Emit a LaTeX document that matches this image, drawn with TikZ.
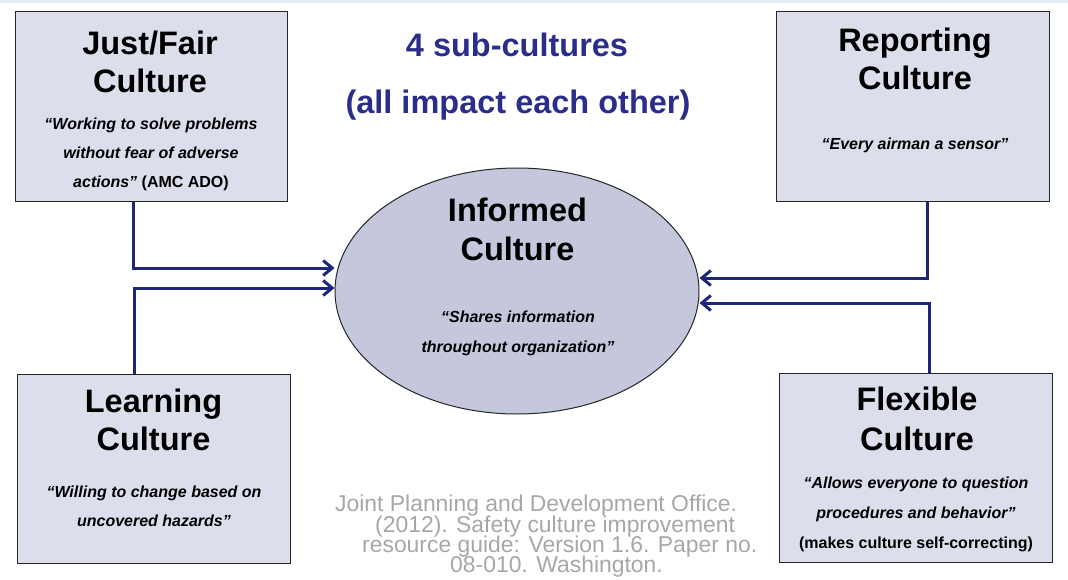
\documentclass[tikz,border=0pt]{standalone}
\usepackage{fontspec}
\setmainfont{Liberation Sans}
\usetikzlibrary{shapes.geometric,arrows.meta}
\definecolor{boxfill}{HTML}{DCDEEB}
\definecolor{ellfill}{HTML}{C5C8DD}
\definecolor{navyarr}{HTML}{1E2678}
\definecolor{navytxt}{HTML}{2A2E8A}
\definecolor{citegray}{HTML}{A7A7A7}
\definecolor{topband}{HTML}{E8ECF4}
\begin{document}
\begin{tikzpicture}[x=1pt,y=-1pt,
  cbox/.style={draw=black!85,line width=1pt,fill=boxfill,rectangle,inner sep=0},
  ttl/.style={anchor=base,inner sep=0,font=\bfseries\fontsize{32.5}{38}\selectfont},
  sub/.style={anchor=base,inner sep=0,font=\bfseries\itshape\fontsize{16}{29}\selectfont},
  subn/.style={anchor=base,inner sep=0,font=\bfseries\fontsize{16}{29}\selectfont},
  hdr/.style={anchor=base,inner sep=0,text=navytxt,font=\bfseries\fontsize{32.5}{38}\selectfont},
  cite/.style={anchor=base west,inner sep=0,text=citegray,font=\fontsize{22.9}{20}\selectfont},
  arr/.style={draw=navyarr,line width=3pt,-{Straight Barb[length=9pt,width=15pt]}}]
\useasboundingbox (0,0) rectangle (1068,580);
\fill[topband] (0,0) rectangle (1068,3);
% boxes
\node[cbox,minimum width=272,minimum height=190] (jf) at (151,107) {};
\node[cbox,minimum width=273,minimum height=190] (rc) at (912.5,107) {};
\node[cbox,minimum width=273,minimum height=189] (lc) at (153.5,468.5) {};
\node[cbox,minimum width=273,minimum height=189] (fc) at (915.5,467.5) {};
\node[ellipse,draw=black!85,line width=1pt,fill=ellfill,minimum width=364,minimum height=246,inner sep=0] (inf) at (517,291) {};
% header
\node[hdr] (h1) at (517,57) {4 sub-cultures};
\node[hdr] (h2) at (518,114) {(all impact each other)};
% Just/Fair
\node[ttl] (jf1) at (150,55) {Just/Fair};
\node[ttl] (jf2) at (150,93) {Culture};
\node[sub] (jf3) at (151,130) {“Working to solve problems};
\node[sub] (jf4) at (151,159) {without fear of adverse};
\node[subn] (jf5) at (151,188) {\textit{actions”} (AMC ADO)};
% Reporting
\node[ttl] (rc1) at (915,52) {Reporting};
\node[ttl] (rc2) at (915,90) {Culture};
\node[sub] (rc3) at (915,150) {“Every airman a sensor”};
% Learning
\node[ttl] (lc1) at (153.5,412) {Learning};
\node[ttl] (lc2) at (153.5,450) {Culture};
\node[sub] (lc3) at (154,497) {“Willing to change based on};
\node[sub] (lc4) at (154,526) {uncovered hazards”};
% Flexible
\node[ttl] (fc1) at (917,410) {Flexible};
\node[ttl] (fc2) at (917,450) {Culture};
\node[sub] (fc3) at (916,488) {“Allows everyone to question};
\node[sub] (fc4) at (916,518) {procedures and behavior”};
\node[subn] (fc5) at (916,548) {(makes culture self-correcting)};
% Informed
\node[ttl] (in1) at (517.5,222) {Informed};
\node[ttl] (in2) at (517.5,260) {Culture};
\node[sub] (in3) at (518,322) {“Shares information};
\node[sub] (in4) at (518,352) {throughout organization”};
% citation
\node[cite] (c1) at (335,511) {Joint Planning and Development Office.};
\node[cite] (c2) at (375,532) {(2012). Safety culture improvement};
\node[cite] (c3) at (362,552) {resource guide: Version 1.6. Paper no.};
\node[cite] (c4) at (450,572) {08-010. Washington.};
% arrows
\draw[arr] ([xshift=-18pt]jf.south) |- ([yshift=23pt]inf.west);
\draw[arr] ([xshift=-19.5pt]lc.north) |- ([yshift=3pt]inf.west);
\draw[arr] ([xshift=14.5pt]rc.south) |- ([yshift=13pt]inf.east);
\draw[arr] ([xshift=13.5pt]fc.north) |- ([yshift=-12pt]inf.east);
\end{tikzpicture}
\end{document}
